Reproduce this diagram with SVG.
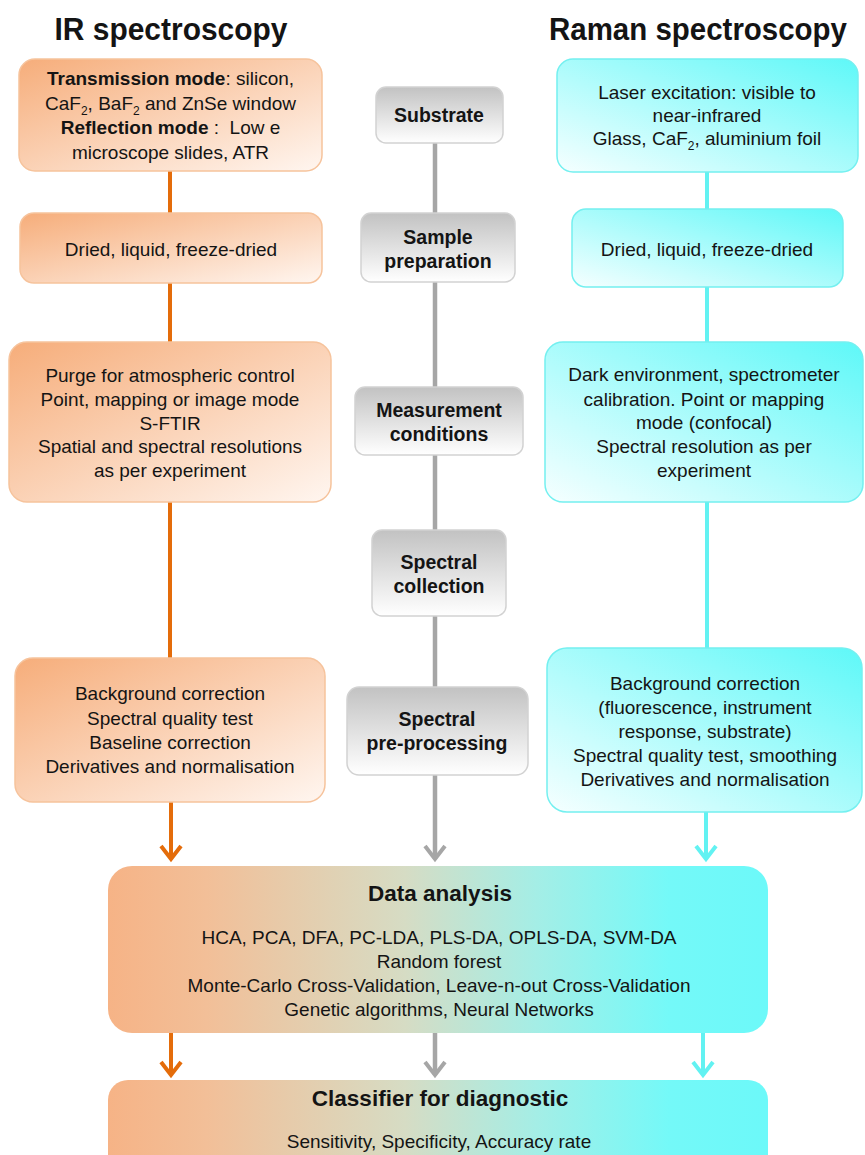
<svg xmlns="http://www.w3.org/2000/svg" width="865" height="1155" viewBox="0 0 865 1155">
<defs>
<linearGradient id="gOr" x1="0" y1="0" x2="1" y2="1"><stop offset="0" stop-color="#f6ad7a"/><stop offset="1" stop-color="#fff6f0"/></linearGradient>
<linearGradient id="gCy" x1="1" y1="0" x2="0" y2="1"><stop offset="0" stop-color="#5ef8f8"/><stop offset="1" stop-color="#f6ffff"/></linearGradient>
<linearGradient id="gGr" x1="0" y1="0" x2="0" y2="1"><stop offset="0" stop-color="#c2c2c2"/><stop offset="1" stop-color="#ffffff"/></linearGradient>
<linearGradient id="gMix" x1="0" y1="0" x2="1" y2="0"><stop offset="0" stop-color="#f6b386"/><stop offset="0.15" stop-color="#f2bf98"/><stop offset="0.45" stop-color="#d6dcc4"/><stop offset="0.65" stop-color="#a4eee6"/><stop offset="0.85" stop-color="#74f9f8"/><stop offset="1" stop-color="#6cf9f9"/></linearGradient>
<marker id="aOr" viewBox="-16 -12 20 24" markerUnits="userSpaceOnUse" markerWidth="20" markerHeight="24" refX="0" refY="0" orient="auto"><path d="M-13,-10 L0,0 L-13,10" fill="none" stroke="#e46c0a" stroke-width="4"/></marker>
<marker id="aGr" viewBox="-16 -12 20 24" markerUnits="userSpaceOnUse" markerWidth="20" markerHeight="24" refX="0" refY="0" orient="auto"><path d="M-13,-10 L0,0 L-13,10" fill="none" stroke="#a6a6a6" stroke-width="4"/></marker>
<marker id="aCy" viewBox="-16 -12 20 24" markerUnits="userSpaceOnUse" markerWidth="20" markerHeight="24" refX="0" refY="0" orient="auto"><path d="M-13,-10 L0,0 L-13,10" fill="none" stroke="#62f2f2" stroke-width="4"/></marker>
</defs>
<style>
text{font-family:"Liberation Sans",Arial,sans-serif;fill:#141414;}
.t{font-size:19px;text-anchor:middle;}
.b{font-weight:bold;}
.c{font-size:19.5px;font-weight:bold;text-anchor:middle;}
.h{font-size:30.5px;font-weight:bold;text-anchor:middle;}
.h2{font-size:22.5px;font-weight:bold;text-anchor:middle;}
.or{fill:url(#gOr);stroke:#f6c39c;stroke-width:1.5;}
.cy{fill:url(#gCy);stroke:#74f0f0;stroke-width:1.5;}
.gr{fill:url(#gGr);stroke:#d2d2d2;stroke-width:1.5;}
.mx{fill:url(#gMix);}
.lo{stroke:#e46c0a;stroke-width:4;fill:none;}
.lg{stroke:#a6a6a6;stroke-width:4.5;fill:none;}
.lc{stroke:#62f2f2;stroke-width:4;fill:none;}
</style>
<rect width="865" height="1155" fill="#ffffff"/>

<g id="connectors">
<line class="lo" x1="170" y1="171" x2="170" y2="213"/>
<line class="lo" x1="170" y1="283" x2="170" y2="342"/>
<line class="lo" x1="170" y1="502" x2="170" y2="658"/>
<line class="lo" x1="171" y1="802" x2="171" y2="859" marker-end="url(#aOr)"/>
<line class="lo" x1="171" y1="1033" x2="171" y2="1075" marker-end="url(#aOr)"/>
<line class="lg" x1="435" y1="143" x2="435" y2="213"/>
<line class="lg" x1="435" y1="282" x2="435" y2="387"/>
<line class="lg" x1="435" y1="455" x2="435" y2="530"/>
<line class="lg" x1="435" y1="616" x2="435" y2="687"/>
<line class="lg" x1="435" y1="775" x2="435" y2="859" marker-end="url(#aGr)"/>
<line class="lg" x1="435" y1="1033" x2="435" y2="1075" marker-end="url(#aGr)"/>
<line class="lc" x1="707" y1="171" x2="707" y2="209"/>
<line class="lc" x1="707" y1="287" x2="707" y2="342"/>
<line class="lc" x1="707" y1="502" x2="707" y2="648"/>
<line class="lc" x1="706" y1="812" x2="706" y2="859" marker-end="url(#aCy)"/>
<line class="lc" x1="703" y1="1033" x2="703" y2="1075" marker-end="url(#aCy)"/>
</g>

<g id="title-ir"><text class="h" x="171" y="40" textLength="233" lengthAdjust="spacingAndGlyphs">IR spectroscopy</text></g>
<g id="title-raman"><text class="h" x="698" y="40" textLength="298" lengthAdjust="spacingAndGlyphs">Raman spectroscopy</text></g>

<g id="ir-substrate">
<rect class="or" x="19" y="59" width="303" height="112" rx="16"/>
<text class="t" x="170.5" y="85"><tspan class="b">Transmission mode</tspan>: silicon,</text>
<text class="t" x="170.5" y="110">CaF<tspan font-size="12" dy="5">2</tspan><tspan dy="-5">, BaF</tspan><tspan font-size="12" dy="5">2</tspan><tspan dy="-5"> and ZnSe window</tspan></text>
<text class="t" x="170.5" y="134" xml:space="preserve"><tspan class="b">Reflection mode</tspan> :  Low e</text>
<text class="t" x="170.5" y="159">microscope slides, ATR</text>
</g>
<g id="ir-sample">
<rect class="or" x="20" y="213" width="302" height="70" rx="14"/>
<text class="t" x="171" y="256">Dried, liquid, freeze-dried</text>
</g>
<g id="ir-measurement">
<rect class="or" x="9" y="342" width="322" height="160" rx="18"/>
<text class="t" x="170" y="382">Purge for atmospheric control</text>
<text class="t" x="170" y="406">Point, mapping or image mode</text>
<text class="t" x="170" y="430">S-FTIR</text>
<text class="t" x="170" y="453">Spatial and spectral resolutions</text>
<text class="t" x="170" y="477">as per experiment</text>
</g>
<g id="ir-preprocessing">
<rect class="or" x="15" y="658" width="310" height="144" rx="18"/>
<text class="t" x="170" y="700">Background correction</text>
<text class="t" x="170" y="725">Spectral quality test</text>
<text class="t" x="170" y="749">Baseline correction</text>
<text class="t" x="170" y="773">Derivatives and normalisation</text>
</g>

<g id="step-substrate">
<rect class="gr" x="376" y="87" width="127" height="56" rx="10"/>
<text class="c" x="439" y="122">Substrate</text>
</g>
<g id="step-sample">
<rect class="gr" x="361" y="213" width="154" height="69" rx="10"/>
<text class="c" x="438" y="244">Sample</text>
<text class="c" x="438" y="268">preparation</text>
</g>
<g id="step-measurement">
<rect class="gr" x="355" y="387" width="168" height="68" rx="10"/>
<text class="c" x="439" y="417">Measurement</text>
<text class="c" x="439" y="441">conditions</text>
</g>
<g id="step-collection">
<rect class="gr" x="372" y="530" width="134" height="86" rx="10"/>
<text class="c" x="439" y="569">Spectral</text>
<text class="c" x="439" y="593">collection</text>
</g>
<g id="step-preprocessing">
<rect class="gr" x="347" y="687" width="181" height="88" rx="12"/>
<text class="c" x="437" y="726">Spectral</text>
<text class="c" x="437" y="750">pre-processing</text>
</g>

<g id="raman-substrate">
<rect class="cy" x="557" y="59" width="301" height="113" rx="16"/>
<text class="t" x="707" y="99">Laser excitation: visible to</text>
<text class="t" x="707" y="122">near-infrared</text>
<text class="t" x="707" y="145">Glass, CaF<tspan font-size="12" dy="5">2</tspan><tspan dy="-5">, aluminium foil</tspan></text>
</g>
<g id="raman-sample">
<rect class="cy" x="572" y="209" width="271" height="78" rx="14"/>
<text class="t" x="707" y="256">Dried, liquid, freeze-dried</text>
</g>
<g id="raman-measurement">
<rect class="cy" x="545" y="342" width="318" height="160" rx="18"/>
<text class="t" x="704" y="381">Dark environment, spectrometer</text>
<text class="t" x="704" y="406">calibration. Point or mapping</text>
<text class="t" x="704" y="429">mode (confocal)</text>
<text class="t" x="704" y="453">Spectral resolution as per</text>
<text class="t" x="704" y="477">experiment</text>
</g>
<g id="raman-preprocessing">
<rect class="cy" x="547" y="648" width="315" height="164" rx="20"/>
<text class="t" x="705" y="690">Background correction</text>
<text class="t" x="705" y="714">(fluorescence, instrument</text>
<text class="t" x="705" y="738">response, substrate)</text>
<text class="t" x="705" y="762">Spectral quality test, smoothing</text>
<text class="t" x="705" y="786">Derivatives and normalisation</text>
</g>

<g id="data-analysis">
<rect class="mx" x="108" y="866" width="660" height="167" rx="24"/>
<text class="h2" x="440" y="901">Data analysis</text>
<text class="t" x="439" y="944">HCA, PCA, DFA, PC-LDA, PLS-DA, OPLS-DA, SVM-DA</text>
<text class="t" x="439" y="968">Random forest</text>
<text class="t" x="439" y="992">Monte-Carlo Cross-Validation, Leave-n-out Cross-Validation</text>
<text class="t" x="439" y="1016">Genetic algorithms, Neural Networks</text>
</g>
<g id="classifier">
<rect class="mx" x="108" y="1080" width="660" height="100" rx="20"/>
<text class="h2" x="440" y="1106">Classifier for diagnostic</text>
<text class="t" x="439" y="1148">Sensitivity, Specificity, Accuracy rate</text>
</g>
</svg>
